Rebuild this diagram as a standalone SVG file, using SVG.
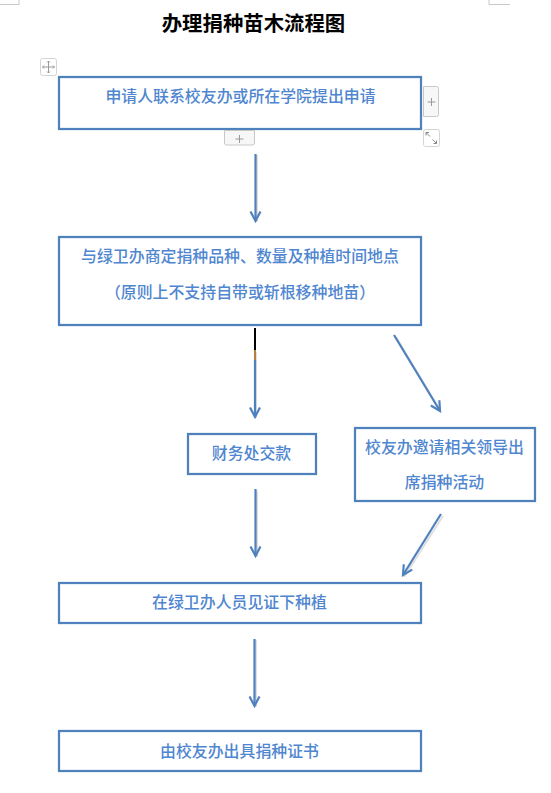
<svg xmlns="http://www.w3.org/2000/svg" width="551" height="793" viewBox="0 0 551 793">
<style>
.n{fill:#fff;stroke:#4f81bd;stroke-width:2.25}
.t{font-family:"Noto Sans CJK SC",sans-serif;font-size:15.9px;font-weight:500;fill:#4f86d0;text-anchor:middle}
.title{font-family:"Noto Sans CJK SC",sans-serif;font-size:20.4px;font-weight:700;fill:#000;text-anchor:middle}
.c{stroke:#4f81bd;stroke-width:2.2;fill:none;marker-end:url(#a)}
.s{stroke:#999;stroke-width:2;fill:none;opacity:.3;filter:url(#b)}
.u{fill:#f7f7f7;stroke:#c8c8c8;stroke-width:1}
.w{fill:#fff;stroke:#d4d4d4;stroke-width:1}
.p{stroke:#999;stroke-width:1;fill:none}
</style>
<defs>
<marker id="a" markerUnits="userSpaceOnUse" markerWidth="14" markerHeight="14" refX="11" refY="6" orient="auto"><path d="M1.500 1L11 6L1.500 11" fill="none" stroke="#4f81bd" stroke-width="2.2"/></marker>
<filter id="b" x="-100%" y="-20%" width="300%" height="140%"><feGaussianBlur stdDeviation="0.7"/></filter>
</defs>
<rect width="551" height="793" fill="#fff"/>
<path d="M0 4.500H19V0M510 4.500H489V0" fill="none" stroke="#c8c8c8"/>
<text class="title" x="253.500" y="31">办理捐种苗木流程图</text>
<g id="ui">
<rect class="w" x="40.500" y="58.500" width="16" height="17" rx="2"/>
<path d="M48.500 61V73M42.500 67H54.500M47 62.500L48.500 61L50 62.500M47 71.500L48.500 73L50 71.500M44 65.500L42.500 67L44 68.500M53 65.500L54.500 67L53 68.500" fill="none" stroke="#999"/>
<path class="u" d="M423.500 86.500H436.500a2 2 0 0 1 2 2V114.500a2 2 0 0 1-2 2H423.500Z"/>
<path class="p" d="M431.500 98V106M427.500 102H435.500"/>
<rect class="w" x="423.500" y="129.500" width="16" height="17" rx="2"/>
<path d="M426 132.500H429M426 132.500V135.500M426 132.500L430 136.500M436.500 143.500H433.500M436.500 143.500V140.500M436.500 143.500L432.500 139.500" stroke="#888" fill="none"/>
</g>
<g id="connectors">
<path class="s" d="M257 155V222M256 352V418M396 337L441 412M257 491V557M443 516L404 577M256 640V707"/>
<path class="c" d="M255.500 154V221"/>
<path d="M255 328V350" stroke="#000" stroke-width="2" fill="none"/>
<path d="M255 350V360" stroke="#b8803f" stroke-width="2" fill="none"/>
<path class="c" d="M255 360V417"/>
<path class="c" d="M394 335L440 411"/>
<path class="c" d="M255.500 489V556"/>
<path class="c" d="M441 514L403 575"/>
<path class="c" d="M254.500 639V706"/>
</g>
<g id="n1"><rect class="n" x="59" y="77" width="362" height="52"/><text class="t" x="240.500" y="102">申请人联系校友办或所在学院提出申请</text></g>
<g id="n2"><rect class="n" x="59" y="237" width="362" height="88"/><text class="t" x="240" y="262">与绿卫办商定捐种品种、数量及种植时间地点</text><text class="t" x="240" y="298">（原则上不支持自带或斩根移种地苗）</text></g>
<g id="n3"><rect class="n" x="188" y="434" width="128" height="40"/><text class="t" x="251.500" y="459">财务处交款</text></g>
<g id="n4"><rect class="n" x="355" y="428" width="180" height="73"/><text class="t" x="444.500" y="453">校友办邀请相关领导出</text><text class="t" x="444.500" y="488">席捐种活动</text></g>
<g id="n5"><rect class="n" x="59" y="583" width="362" height="40"/><text class="t" x="239.500" y="608">在绿卫办人员见证下种植</text></g>
<g id="n6"><rect class="n" x="59" y="731" width="362" height="40"/><text class="t" x="239.500" y="757">由校友办出具捐种证书</text></g>
<g id="ui2"><path class="u" d="M224.500 130.500H254.500V143a2 2 0 0 1-2 2H226.500a2 2 0 0 1-2-2Z"/><path class="p" d="M239.500 135V143M235.500 139H243.500"/></g>
</svg>
